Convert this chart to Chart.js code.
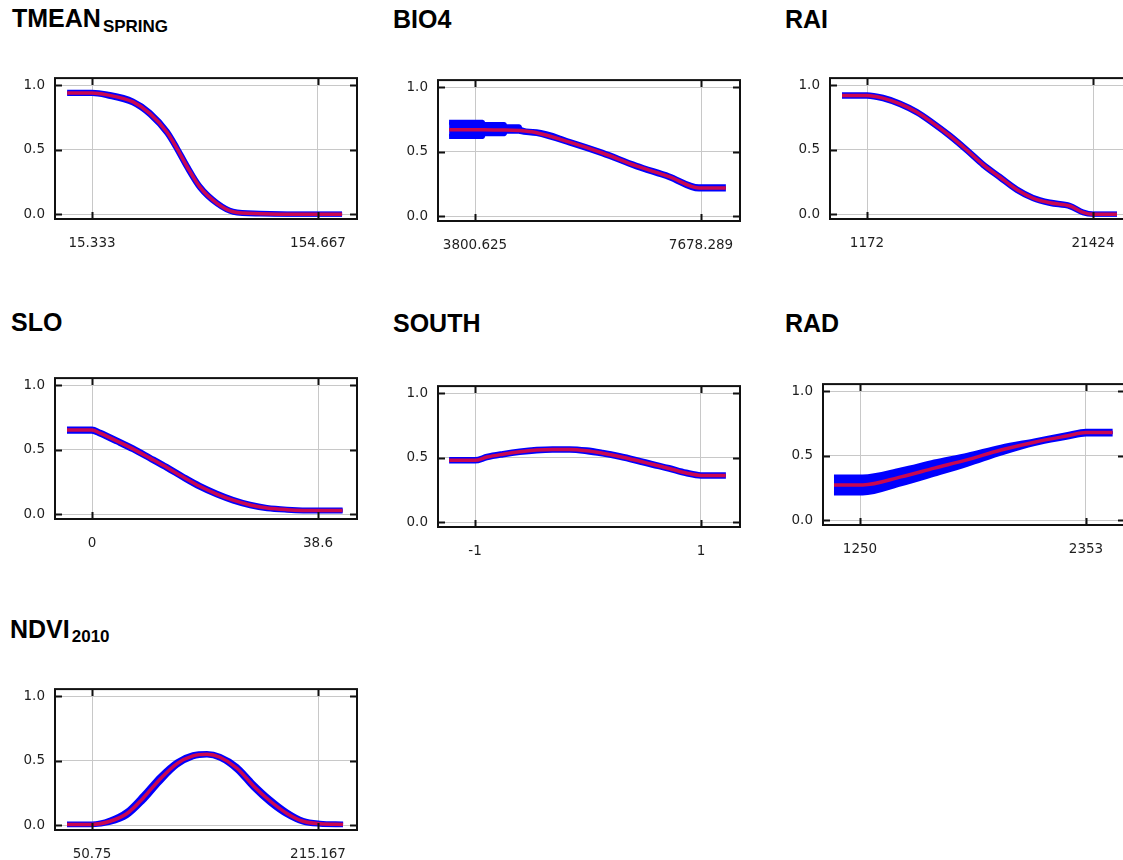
<!DOCTYPE html>
<html>
<head>
<meta charset="utf-8">
<title>Response curves</title>
<script src="https://cdn.jsdelivr.net/npm/chart.js@4.4.1/dist/chart.umd.min.js"></script>
<style>
  html, body { margin: 0; padding: 0; width: 1123px; height: 860px; overflow: hidden; background: #fff; }
  .panel-title {
    position: absolute;
    font: bold 25px "Liberation Sans", Arial, sans-serif;
    line-height: 25px;
    color: #000;
    white-space: nowrap;
  }
  .panel-title sub { font-size: 17px; line-height: 1; vertical-align: -5px; margin-left: 2px; }
  .panel-title sub.low { vertical-align: -3.5px; }
  canvas { position: absolute; }
</style>
</head>
<body>
<script>
// Response curves: mean (red) with +/- one std. dev. band (blue)

const yTicks = [0, 0.5, 1.0];

const tmeanTicks = [15.333, 154.667];
const tmeanX    = [0, 15.333, 24.6, 40.6, 51.1, 61.6, 67.7, 73.9, 81.9, 92.4, 102.3, 118.9, 140, 169.5];
const tmeanMean = [0.94, 0.94, 0.925, 0.87, 0.78, 0.635, 0.51, 0.37, 0.21, 0.085, 0.02, 0.005, 0.0, 0.0];
const tmeanHigh = [0.945, 0.945, 0.932, 0.878, 0.79, 0.645, 0.52, 0.38, 0.218, 0.091, 0.024, 0.008, 0.002, 0.002];
const tmeanLow  = [0.935, 0.935, 0.918, 0.862, 0.77, 0.625, 0.5, 0.36, 0.202, 0.079, 0.016, 0.002, 0.0, 0.0];

const bio4Ticks = [3800.625, 7678.289];
const bio4X    = [3356, 3800.625, 3930, 3945, 4305, 4320, 4560, 4580, 4859, 5423, 5986, 6567, 7131, 7643, 8105];
const bio4Mean = [0.67, 0.67, 0.67, 0.67, 0.668, 0.668, 0.665, 0.664, 0.647, 0.574, 0.49, 0.39, 0.307, 0.22, 0.22];
const bio4High = [0.728, 0.728, 0.728, 0.71, 0.71, 0.694, 0.694, 0.674, 0.654, 0.581, 0.497, 0.397, 0.314, 0.229, 0.229];
const bio4Low  = [0.617, 0.617, 0.617, 0.64, 0.64, 0.659, 0.659, 0.656, 0.64, 0.567, 0.483, 0.383, 0.3, 0.211, 0.211];

const raiTicks = [1172, 21424];
const raiX    = [-1068, 1172, 2606, 4129, 5652, 7086, 8609, 10132, 11566, 13089, 14612, 16045, 17569, 19361, 20526, 21424, 23574];
const raiMean = [0.92, 0.92, 0.9, 0.855, 0.79, 0.706, 0.607, 0.496, 0.385, 0.287, 0.19, 0.126, 0.089, 0.064, 0.015, 0.0, 0.0];
const raiHigh = [0.926, 0.926, 0.906, 0.862, 0.797, 0.713, 0.614, 0.503, 0.392, 0.294, 0.197, 0.132, 0.095, 0.07, 0.019, 0.002, 0.002];
const raiLow  = [0.914, 0.914, 0.894, 0.848, 0.783, 0.699, 0.6, 0.489, 0.378, 0.28, 0.183, 0.12, 0.083, 0.058, 0.011, 0.0, 0.0];

const sloTicks = [0, 38.6];
const sloX    = [-4.27, 0, 1.37, 4.27, 7.0, 9.9, 12.8, 15.5, 18.4, 21.3, 24.1, 27.0, 29.9, 33.3, 38.4, 42.8];
const sloMean = [0.652, 0.652, 0.628, 0.567, 0.507, 0.435, 0.362, 0.29, 0.217, 0.157, 0.109, 0.072, 0.048, 0.036, 0.029, 0.029];
const sloHigh = [0.66, 0.66, 0.636, 0.575, 0.515, 0.443, 0.37, 0.298, 0.225, 0.165, 0.116, 0.078, 0.053, 0.04, 0.033, 0.033];
const sloLow  = [0.644, 0.644, 0.62, 0.559, 0.499, 0.427, 0.354, 0.282, 0.209, 0.149, 0.102, 0.066, 0.043, 0.032, 0.025, 0.025];

const southTicks = [-1, 1];
const southX    = [-1.229, -1, -0.894, -0.753, -0.604, -0.454, -0.313, -0.163, -0.013, 0.128, 0.278, 0.427, 0.568, 0.718, 0.868, 1.0, 1.22];
const southMean = [0.48, 0.48, 0.505, 0.527, 0.546, 0.559, 0.564, 0.564, 0.554, 0.535, 0.51, 0.48, 0.449, 0.417, 0.382, 0.363, 0.363];
const southHigh = [0.486, 0.486, 0.511, 0.533, 0.552, 0.565, 0.57, 0.57, 0.561, 0.542, 0.517, 0.487, 0.456, 0.424, 0.389, 0.369, 0.369];
const southLow  = [0.474, 0.474, 0.499, 0.521, 0.54, 0.553, 0.558, 0.558, 0.547, 0.528, 0.503, 0.473, 0.442, 0.41, 0.375, 0.357, 0.357];

const radTicks = [1250, 2353];
const radX    = [1123, 1263, 1450, 1613, 1776, 1938, 2101, 2264, 2353, 2483];
const radMean = [0.274, 0.274, 0.336, 0.404, 0.47, 0.544, 0.605, 0.654, 0.679, 0.679];
const radHigh = [0.336, 0.336, 0.39, 0.451, 0.505, 0.567, 0.615, 0.664, 0.689, 0.689];
const radLow  = [0.212, 0.212, 0.282, 0.357, 0.435, 0.521, 0.595, 0.644, 0.669, 0.669];

const ndviTicks = [50.75, 215.167];
const ndviX    = [32.56, 50.75, 63.85, 76.2, 87.9, 100.2, 112.6, 124.2, 134.4, 143.9, 156.2, 167.9, 180.3, 192.6, 204.3, 216.6, 233.4];
const ndviMean = [0.007, 0.007, 0.031, 0.091, 0.21, 0.357, 0.478, 0.538, 0.55, 0.527, 0.442, 0.309, 0.188, 0.092, 0.031, 0.012, 0.007];
const ndviHigh = [0.01, 0.01, 0.04, 0.108, 0.232, 0.378, 0.492, 0.546, 0.556, 0.535, 0.456, 0.326, 0.204, 0.104, 0.038, 0.016, 0.01];
const ndviLow  = [0.004, 0.004, 0.022, 0.074, 0.188, 0.336, 0.464, 0.53, 0.544, 0.519, 0.428, 0.292, 0.172, 0.08, 0.024, 0.008, 0.004];

// panel layout: plot box top-left corner and title position (page pixels)
const panels = [
  { title: 'TMEAN<sub>SPRING</sub>', x: tmeanX, mean: tmeanMean, high: tmeanHigh, low: tmeanLow, ticks: tmeanTicks, box: [55, 70], head: [12, 6] },
  { title: 'BIO4', x: bio4X, mean: bio4Mean, high: bio4High, low: bio4Low, ticks: bio4Ticks, box: [438, 72], head: [393, 7] },
  { title: 'RAI', x: raiX, mean: raiMean, high: raiHigh, low: raiLow, ticks: raiTicks, box: [830, 70], head: [785, 7] },
  { title: 'SLO', x: sloX, mean: sloMean, high: sloHigh, low: sloLow, ticks: sloTicks, box: [55, 370], head: [11, 310] },
  { title: 'SOUTH', x: southX, mean: southMean, high: southHigh, low: southLow, ticks: southTicks, box: [438, 378], head: [393, 311] },
  { title: 'RAD', x: radX, mean: radMean, high: radHigh, low: radLow, ticks: radTicks, box: [823, 376], head: [785, 311] },
  { title: 'NDVI<sub class="low">2010</sub>', x: ndviX, mean: ndviMean, high: ndviHigh, low: ndviLow, ticks: ndviTicks, box: [55, 681], head: [10, 617] }
];

const BOX_W = 302;
const BOX_H = 149;
const Y_MIN = -0.0365;
const Y_MAX = 1.0547;
const PAD = { left: 5, top: 10, right: 12 };
const Y_AXIS_W = 50;
const X_AXIS_H = 45;

const blue = '#0000ff';
const red = 'rgba(212, 8, 72, 0.95)';
const tickFont = { family: "'DejaVu Sans', sans-serif", size: 13.5 };
const tickColor = '#1e1e1e';
const gridColor = '#c8c8c8';

// black frame with short inward tick marks on all four sides
const boxFrame = {
  id: 'boxFrame',
  afterDraw(chart) {
    const { ctx, chartArea: a, scales } = chart;
    ctx.save();
    ctx.strokeStyle = '#111';
    ctx.lineWidth = 2;
    ctx.beginPath();
    scales.y.ticks.forEach(t => {
      const py = Math.round(scales.y.getPixelForValue(t.value)) + 0.5;
      ctx.moveTo(a.left, py); ctx.lineTo(a.left + 7, py);
      ctx.moveTo(a.right, py); ctx.lineTo(a.right - 7, py);
    });
    scales.x.ticks.forEach(t => {
      const px = Math.round(scales.x.getPixelForValue(t.value)) + 0.5;
      ctx.moveTo(px, a.top); ctx.lineTo(px, a.top + 7);
      ctx.moveTo(px, a.bottom); ctx.lineTo(px, a.bottom - 7);
    });
    ctx.stroke();
    ctx.strokeRect(a.left, a.top, a.right - a.left, a.bottom - a.top);
    ctx.restore();
  }
};

function points(xs, ys) {
  return xs.map((x, i) => ({ x: x, y: ys[i] }));
}

function drawPanel(p) {
  const head = document.createElement('div');
  head.className = 'panel-title';
  head.style.left = p.head[0] + 'px';
  head.style.top = p.head[1] + 'px';
  head.innerHTML = p.title;
  document.body.appendChild(head);

  const canvas = document.createElement('canvas');
  canvas.width = PAD.left + Y_AXIS_W + BOX_W + PAD.right;
  canvas.height = PAD.top + BOX_H + X_AXIS_H;
  canvas.style.left = (p.box[0] - PAD.left - Y_AXIS_W) + 'px';
  canvas.style.top = (p.box[1] - PAD.top) + 'px';
  document.body.appendChild(canvas);

  // tick 1 sits 37px in from the left edge, tick 2 is 226px further on
  const span = (p.ticks[1] - p.ticks[0]) / 226;
  const xMin = p.ticks[0] - 37 * span;
  const xMax = p.ticks[0] + (BOX_W - 37) * span;

  const line = {
    pointRadius: 0,
    cubicInterpolationMode: 'monotone',
    borderCapStyle: 'butt'
  };

  new Chart(canvas, {
    type: 'line',
    data: {
      datasets: [
        Object.assign({ data: points(p.x, p.mean), borderColor: red, borderWidth: 3.5, fill: false }, line),
        Object.assign({ data: points(p.x, p.high), borderColor: blue, backgroundColor: blue, borderWidth: 5, fill: '+1' }, line),
        Object.assign({ data: points(p.x, p.low), borderColor: blue, borderWidth: 5, fill: false }, line)
      ]
    },
    options: {
      responsive: false,
      animation: false,
      events: [],
      layout: { padding: { left: PAD.left, top: PAD.top, right: PAD.right, bottom: 0 } },
      plugins: { legend: { display: false }, tooltip: { enabled: false } },
      scales: {
        x: {
          type: 'linear',
          min: xMin,
          max: xMax,
          afterBuildTicks: s => { s.ticks = p.ticks.map(v => ({ value: v })); },
          afterFit: s => { s.height = X_AXIS_H; },
          ticks: { padding: 16, maxRotation: 0, autoSkip: false, color: tickColor, font: tickFont, callback: v => String(v) },
          grid: { color: gridColor, lineWidth: 1, drawTicks: false },
          border: { display: false }
        },
        y: {
          min: Y_MIN,
          max: Y_MAX,
          afterBuildTicks: s => { s.ticks = yTicks.map(v => ({ value: v })); },
          afterFit: s => { s.width = Y_AXIS_W; },
          ticks: { padding: 10, color: tickColor, font: tickFont, callback: v => v.toFixed(1) },
          grid: { color: gridColor, lineWidth: 1, drawTicks: false },
          border: { display: false }
        }
      }
    },
    plugins: [boxFrame]
  });
}

panels.forEach(drawPanel);
</script>
</body>
</html>
